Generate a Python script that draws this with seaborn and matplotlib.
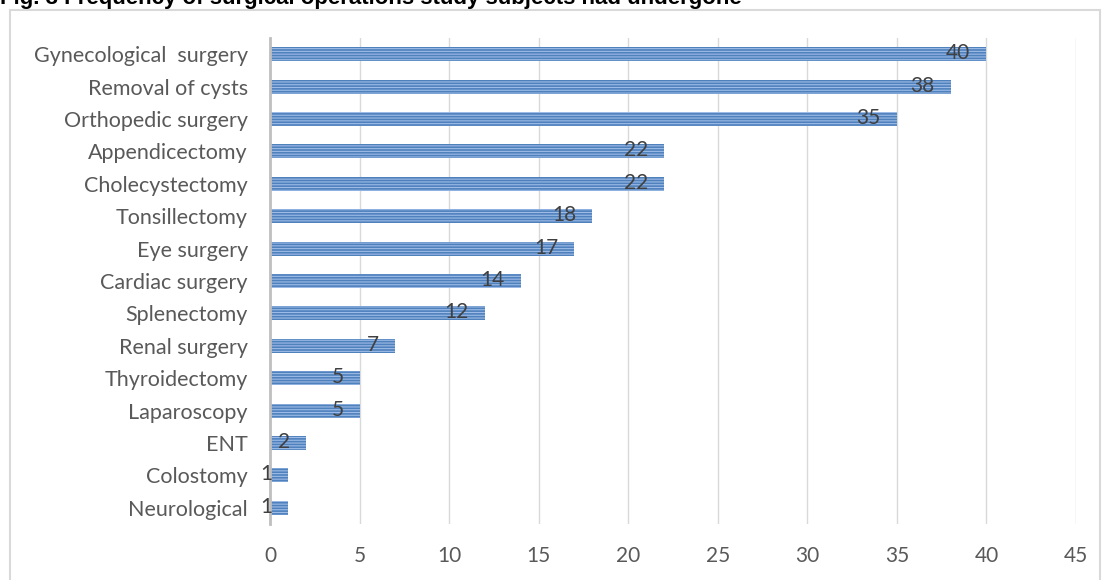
import matplotlib
matplotlib.use("Agg")
import matplotlib.pyplot as plt
import seaborn as sns
import pandas as pd
from matplotlib.patches import Rectangle

categories = ["Gynecological  surgery", "Removal of cysts", "Orthopedic surgery",
              "Appendicectomy", "Cholecystectomy", "Tonsillectomy", "Eye surgery",
              "Cardiac surgery", "Splenectomy", "Renal surgery", "Thyroidectomy",
              "Laparoscopy", "ENT", "Colostomy", "Neurological"]
values = [40, 38, 35, 22, 22, 18, 17, 14, 12, 7, 5, 5, 2, 1, 1]
x_ticks = [0, 5, 10, 15, 20, 25, 30, 35, 40, 45]
title = "Fig. 3 Frequency of surgical operations study subjects had undergone"

sns.set_theme(style="white")
plt.rcParams['font.family'] = ['Lato', 'DejaVu Sans']
plt.rcParams['hatch.linewidth'] = 0.8

df = pd.DataFrame({"op": categories, "n": values})

fig = plt.figure(figsize=(11.05, 5.8), dpi=100)
ax = fig.add_axes([270/1105, 1 - 524/580, (1076 - 270)/1105, (524 - 38)/580])

sns.barplot(data=df, y="op", x="n", orient="h", ax=ax, color="#4f81bd",
            width=0.43, saturation=1)
for p in ax.patches:
    p.set_hatch("------")
    p.set_edgecolor("#9dbbe6")
    p.set_linewidth(0)

for i, v in enumerate(values):
    ax.annotate(str(v), xy=(v, i), xytext=(-16, 1), textcoords="offset pixels",
                ha="right", va="center", fontsize=15, color="#404040")

ax.set_xlim(0, 45)
ax.set_ylim(14.5, -0.5)
ax.set_xticks(x_ticks)
ax.set_xlabel("")
ax.set_ylabel("")
ax.grid(axis="x", color="#d9d9d9", linewidth=1)
ax.set_axisbelow(True)
for s in ["top", "right", "bottom"]:
    ax.spines[s].set_visible(False)
ax.spines["left"].set_color("#bfbfbf")
ax.spines["left"].set_linewidth(2)
ax.tick_params(axis="y", length=0, pad=16, labelsize=15.5, labelcolor="#595959")
ax.tick_params(axis="x", length=0, pad=16, labelsize=15, labelcolor="#595959")

fig.patches.append(Rectangle((10/1105, -0.01), (1100 - 10)/1105, 1 - 10/580 + 0.01,
                             transform=fig.transFigure, fill=False,
                             edgecolor="#d9d9d9", linewidth=1.5))
fig.text(0, 1 - 4/580, title, ha="left", va="baseline", fontsize=16,
         fontweight="bold", family=["Liberation Sans", "DejaVu Sans"], color="black")

fig.savefig("out.png", dpi=100)
